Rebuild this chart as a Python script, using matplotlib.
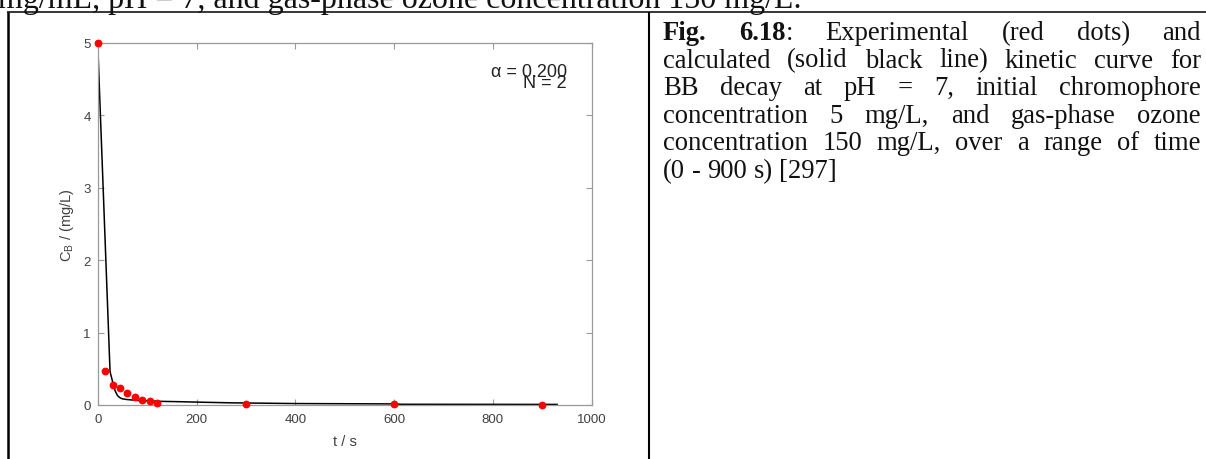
import matplotlib.pyplot as plt

# kinetic data: BB decay, pH 7, C0 = 5 mg/L, ozone 150 mg/L
t_exp = [0, 15, 30, 45, 60, 75, 90, 105, 120, 300, 600, 900]
c_exp = [5.0, 0.47, 0.28, 0.23, 0.16, 0.11, 0.07, 0.06, 0.03, 0.02, 0.01, 0.005]

t_calc = [0, 25, 28, 31, 35, 40, 45, 50, 60, 80, 100, 130, 170, 200, 270, 400, 600, 615, 930]
c_calc = [5.0, 0.46, 0.38, 0.30, 0.20, 0.13, 0.10, 0.085, 0.075, 0.063, 0.057, 0.05,
          0.045, 0.04, 0.03, 0.02, 0.015, 0.01, 0.008]

x_ticks = [0, 200, 400, 600, 800, 1000]
y_ticks = [0, 1, 2, 3, 4, 5]
alpha_val = 0.200
n_val = 2

top_line = "mg/mL, pH = 7, and gas-phase ozone concentration 150 mg/L."
caption = [
    [[("Fig.", "bold")], [("6.18", "bold"), (":", "normal")], "Experimental", "(red", "dots)", "and"],
    "calculated (solid black line) kinetic curve for".split(),
    "BB decay at pH = 7, initial chromophore".split(),
    "concentration 5 mg/L, and gas-phase ozone".split(),
    "concentration 150 mg/L, over a range of time".split(),
    "(0 - 900 s) [297]".split(),
]

W, H = 1206, 460
SERIF = "Liberation Serif"
SANS = "Liberation Sans"
GREY = "#9a9a9a"
LABEL = "#404040"

fig = plt.figure(figsize=(W / 100, H / 100), dpi=100)
fig.patch.set_facecolor("white")

# page layer in pixel coordinates (y down)
page = fig.add_axes([0, 0, 1, 1])
page.set_xlim(0, W)
page.set_ylim(H, 0)
page.axis("off")

# table rules
page.plot([7, W], [13, 13], color="black", lw=1.1, solid_capstyle="butt")
page.plot([8, 8], [12.5, H], color="black", lw=1.8, solid_capstyle="butt")
page.plot([649, 649], [12.5, H], color="black", lw=1.5, solid_capstyle="butt")

# last line of the paragraph above the table
page.text(-2, 8, top_line, fontsize=23, family=SERIF, ha="left", va="baseline", color="#111111")

# caption, justified
renderer = fig.canvas.get_renderer()
CAP_SIZE = 19.2


def text_width(s, weight="normal"):
    t = page.text(0, 100, s, fontsize=CAP_SIZE, family=SERIF, fontweight=weight)
    w = t.get_window_extent(renderer).width
    t.remove()
    return w


space_w = text_width("a a") - text_width("aa")
x_left, x_right = 663, 1201
y0, dy = 40, 27.6

for i, line in enumerate(caption):
    words = [w if isinstance(w, list) else [(w, "normal")] for w in line]
    widths = [[text_width(s, wt) for s, wt in word] for word in words]
    total = sum(sum(ws) for ws in widths)
    last = i == len(caption) - 1
    gap = space_w if last else (x_right - x_left - total) / (len(words) - 1)
    x = x_left
    y = y0 + i * dy
    for word, ws in zip(words, widths):
        for (s, wt), w in zip(word, ws):
            page.text(x, y, s, fontsize=CAP_SIZE, family=SERIF, fontweight=wt,
                      ha="left", va="baseline", color="#111111")
            x += w
        x += gap

# kinetic plot
ax = fig.add_axes([97.7 / W, (H - 406) / H, 494 / W, 362 / H])
ax.plot(t_calc, c_calc, color="black", lw=1.1, zorder=2)
ax.plot(t_exp, c_exp, "o", color="red", ms=4.6, mec="red", zorder=3, clip_on=False)

ax.set_xlim(0, 1000)
ax.set_ylim(0, 5)
ax.set_xticks(x_ticks)
ax.set_yticks(y_ticks)
for sp in ax.spines.values():
    sp.set_color(GREY)
    sp.set_linewidth(0.9)
ax.tick_params(direction="in", length=4.3, width=0.8, color=GREY, labelcolor=LABEL,
               labelsize=9.5, top=True, right=True)
ax.tick_params(axis="x", pad=6)
ax.tick_params(axis="y", pad=5)
for lab in ax.get_xticklabels() + ax.get_yticklabels():
    lab.set_family(SANS)

ax.set_xlabel("t / s", fontsize=10.5, family=SANS, color=LABEL, labelpad=6)
ax.set_ylabel(r"C$_\mathregular{B}$ / (mg/L)", fontsize=10.5, family=SANS, color=LABEL, labelpad=5)

ax.text(567, 76.7, f"\u03b1 = {alpha_val:.3f}", transform=page.transData, ha="right",
        va="baseline", fontsize=13, family=SANS, color="#222222")
ax.text(567, 88, f"N = {n_val}", transform=page.transData, ha="right",
        va="baseline", fontsize=13, family=SANS, color="#222222")

fig.savefig("out.png", dpi=100, facecolor="white")
